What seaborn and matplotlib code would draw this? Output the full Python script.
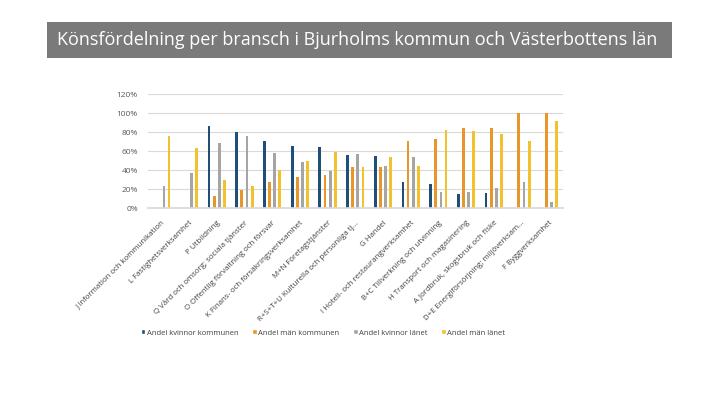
import numpy as np
import pandas as pd
import matplotlib
matplotlib.use("Agg")
import matplotlib.pyplot as plt
import seaborn as sns
from matplotlib.patches import Rectangle

categories = [
    "J Information och kommunikation",
    "L Fastighetsverksamhet",
    "P Utbildning",
    "Q Vård och omsorg; sociala tjänster",
    "O Offentlig förvaltning och försvar",
    "K Finans- och försäkringsverksamhet",
    "M+N Företagstjänster",
    "R+S+T+U Kulturella och personliga tj...",
    "G Handel",
    "I Hotell- och restaurangverksamhet",
    "B+C Tillverkning och utvinning",
    "H Transport och magasinering",
    "A Jordbruk, skogsbruk och fiske",
    "D+E Energiförsörjning; miljöverksam...",
    "F Byggverksamhet",
]
series_names = ["Andel kvinnor kommunen", "Andel män kommunen",
                "Andel kvinnor länet", "Andel män länet"]
kvinnor_kommunen = [np.nan, np.nan, 87, 80, 71, 66, 64, 56, 55, 28, 26, 15, 16, np.nan, np.nan]
man_kommunen     = [np.nan, np.nan, 13, 19, 28, 33, 35, 43, 44, 71, 73, 84, 84, 100, 100]
kvinnor_lanet    = [23, 37, 69, 76, 58, 49, 39, 57, 45, 54, 17, 17, 21, 28, 7]
man_lanet        = [76, 63, 30, 23, 40, 50, 59, 43, 54, 45, 82, 81, 78, 71, 92]

colors = ["#1F4E79", "#E8962A", "#A5A5A5", "#F2C12E"]

rows = []
for name, vals in zip(series_names,
                      [kvinnor_kommunen, man_kommunen, kvinnor_lanet, man_lanet]):
    for c, v in zip(categories, vals):
        rows.append({"Bransch": c, "Serie": name, "Andel": v})
df = pd.DataFrame(rows)

sns.set_theme(style="white")
plt.rcParams["font.family"] = ["Open Sans", "DejaVu Sans"]

fig = plt.figure(figsize=(7.2, 4.05), dpi=100)
fig.patch.set_facecolor("white")

# title bar
fig.patches.append(Rectangle((47/720, 1-57.7/405), (672-47)/720, 35.7/405,
                             transform=fig.transFigure, facecolor="#7A7A7A",
                             edgecolor="none", zorder=0))
fig.text(57/720, 1-40/405, "Könsfördelning per bransch i Bjurholms kommun och Västerbottens län",
         color="white", fontsize=13, va="center", ha="left")

ax = fig.add_axes([147.5/720, 1-208.3/405, 415.5/720, 114/405])
sns.barplot(data=df, x="Bransch", y="Andel", hue="Serie", order=categories,
            hue_order=series_names, palette=colors, width=0.74, ax=ax,
            errorbar=None, saturation=1, legend=True)

for p in ax.patches:
    w = p.get_width()
    if w > 0:
        nw = w * 0.55
        p.set_x(p.get_x() + (w - nw) / 2)
        p.set_width(nw)
        p.set_edgecolor("none")

ax.set_ylim(0, 120)
ax.set_xlim(-0.5, len(categories) - 0.5)
ax.set_yticks(range(0, 121, 20))
ax.set_yticklabels([f"{v}%" for v in range(0, 121, 20)], fontsize=6, color="#595959")
ax.yaxis.grid(True, color="#D9D9D9", linewidth=0.8)
ax.set_axisbelow(True)
for s in ["top", "right", "left"]:
    ax.spines[s].set_visible(False)
ax.spines["bottom"].set_color("#D9D9D9")
ax.tick_params(axis="y", length=0, pad=7)
ax.tick_params(axis="x", length=0, pad=8)
ax.set_xticks(range(len(categories)))
ax.set_xticklabels(categories, rotation=45, ha="right", rotation_mode="anchor",
                   fontsize=5.7, color="#404040")
ax.set_xlabel("")
ax.set_ylabel("")

leg = ax.legend(loc="center", bbox_to_anchor=(323/720, 1-333/405),
                bbox_transform=fig.transFigure, ncol=4, frameon=False,
                fontsize=5.5, handlelength=0.6, handleheight=0.6,
                handletextpad=0.2, columnspacing=1.8)
for t in leg.get_texts():
    t.set_color("#404040")

fig.savefig("out.png", dpi=100, facecolor="white")
